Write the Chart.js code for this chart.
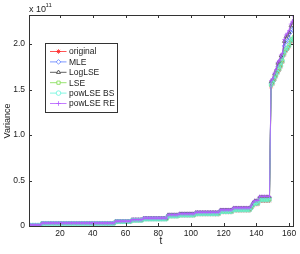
<!DOCTYPE html>
<html>
<head>
<meta charset="utf-8">
<script src="https://cdn.jsdelivr.net/npm/chart.js@4"></script>
<style>
  html, body { margin: 0; padding: 0; background: #fff; }
  #wrap { width: 300px; height: 254px; }
</style>
</head>
<body>
<div id="wrap"><canvas id="varChart"></canvas></div>
<script>
// values in units of 1e11
const seriesNames = ["original", "MLE", "LogLSE", "LSE", "powLSE BS", "powLSE RE"];
const seriesColors = ["#ff2a2a", "#5c7cff", "#3a3a3a", "#7ddc4c", "#66f5dc", "#b45cff"];
const markerStyles = ["star", "rectRot", "triangle", "rect", "circle", "cross"];

// how many consecutive t (starting at t=1) share each level
const runLengths = [8, 45, 10, 7, 15, 7, 10, 15, 8, 11, 1, 1, 3, 7,
                    1, 1, 1, 1, 1, 1, 1, 1, 1, 1, 1, 1, 1, 1, 1];

const original  = [0.009, 0.028, 0.046, 0.060, 0.074, 0.106, 0.115, 0.129, 0.152, 0.170, 0.193, 0.221, 0.239, 0.276,
                   1.53, 1.56, 1.60, 1.64, 1.68, 1.71, 1.75, 1.80, 1.88, 1.92, 1.94, 1.97, 2.02, 2.04, 2.06];
const mle       = [0.010, 0.031, 0.052, 0.067, 0.082, 0.118, 0.129, 0.144, 0.170, 0.190, 0.216, 0.247, 0.268, 0.309,
                   1.57, 1.59, 1.64, 1.68, 1.75, 1.77, 1.83, 1.86, 1.98, 2.02, 2.04, 2.07, 2.13, 2.16, 2.19];
const logLse    = [0.011, 0.032, 0.053, 0.069, 0.085, 0.122, 0.133, 0.148, 0.175, 0.196, 0.223, 0.254, 0.276, 0.318,
                   1.59, 1.61, 1.67, 1.71, 1.79, 1.81, 1.87, 1.89, 2.03, 2.08, 2.10, 2.13, 2.20, 2.23, 2.27];
const lse       = [0.010, 0.029, 0.049, 0.063, 0.078, 0.112, 0.121, 0.136, 0.160, 0.180, 0.204, 0.233, 0.252, 0.291,
                   1.55, 1.58, 1.62, 1.66, 1.70, 1.73, 1.77, 1.82, 1.90, 1.94, 1.96, 1.99, 2.04, 2.06, 2.08];
const powLseBs  = [0.009, 0.028, 0.048, 0.062, 0.076, 0.109, 0.119, 0.133, 0.157, 0.176, 0.200, 0.228, 0.247, 0.285,
                   1.55, 1.57, 1.61, 1.65, 1.69, 1.72, 1.76, 1.81, 1.89, 1.93, 1.95, 1.98, 2.03, 2.05, 2.07];
const powLseRe  = [0.011, 0.033, 0.054, 0.070, 0.087, 0.124, 0.135, 0.151, 0.178, 0.200, 0.227, 0.260, 0.280, 0.325,
                   1.60, 1.62, 1.68, 1.72, 1.80, 1.82, 1.88, 1.90, 2.05, 2.10, 2.12, 2.15, 2.22, 2.25, 2.30];
const allSeries = [original, mle, logLse, lse, powLseBs, powLseRe];

const xTicks = [20, 40, 60, 80, 100, 120, 140, 160];
const yTicks = [0, 0.5, 1, 1.5, 2];
const xMin = 1, xMax = 163, yMin = 0, yMax = 2.32;

const tickFont = { family: "'Liberation Sans', Arial, sans-serif", size: 8.5 };

function expand(levels) {
    const pts = [];
    let t = 1;
    levels.forEach((v, i) => {
        for (let k = 0; k < runLengths[i]; k++) pts.push({ x: t++, y: v });
    });
    return pts;
}

//frame, inward ticks, legend and labels like matlab
const matlabLook = {
    id: "matlabLook",
    afterDraw(chart) {
        const ctx = chart.ctx;
        const a = chart.chartArea;
        const xs = chart.scales.x, ys = chart.scales.y;
        ctx.save();
        ctx.strokeStyle = "#333";
        ctx.lineWidth = 1;
        ctx.strokeRect(a.left + 0.5, a.top + 0.5, a.right - a.left - 1, a.bottom - a.top);

        ctx.beginPath();
        xTicks.forEach(v => {
            const px = Math.round(xs.getPixelForValue(v)) + 0.5;
            ctx.moveTo(px, a.bottom); ctx.lineTo(px, a.bottom - 3);
            ctx.moveTo(px, a.top); ctx.lineTo(px, a.top + 3);
        });
        yTicks.forEach(v => {
            const py = Math.round(ys.getPixelForValue(v)) + 0.5;
            ctx.moveTo(a.left, py); ctx.lineTo(a.left + 3, py);
            ctx.moveTo(a.right, py); ctx.lineTo(a.right - 3, py);
        });
        ctx.stroke();

        //axis labels
        ctx.fillStyle = "#222";
        ctx.font = "9px 'Liberation Sans', Arial, sans-serif";
        ctx.textAlign = "left";
        ctx.textBaseline = "middle";
        ctx.fillText("x 10", 29, 10);
        ctx.font = "6px 'Liberation Sans', Arial, sans-serif";
        ctx.fillText("11", 45.5, 5.5);

        ctx.font = "10px 'Liberation Sans', Arial, sans-serif";
        ctx.textAlign = "center";
        ctx.fillText("t", 161, 241);

        ctx.save();
        ctx.translate(8, 121);
        ctx.rotate(-Math.PI / 2);
        ctx.font = "9px 'Liberation Sans', Arial, sans-serif";
        ctx.fillText("Variance", 0, 0);
        ctx.restore();

        //legend box
        const bx = 45.5, by = 43.5, bw = 72, bh = 69;
        ctx.fillStyle = "#fff";
        ctx.fillRect(bx, by, bw, bh);
        ctx.strokeStyle = "#333";
        ctx.strokeRect(bx, by, bw, bh);
        ctx.font = "8.5px 'Liberation Sans', Arial, sans-serif";
        ctx.textAlign = "left";
        seriesNames.forEach((name, i) => {
            const y = 51.5 + i * 10.4;
            ctx.strokeStyle = seriesColors[i];
            ctx.lineWidth = 0.8;
            ctx.beginPath();
            ctx.moveTo(50, y); ctx.lineTo(66.5, y);
            ctx.stroke();
            ctx.fillStyle = "#fff";
            Chart.helpers.drawPoint(ctx, {
                pointStyle: markerStyles[i], radius: 2.3, borderWidth: 0.8, rotation: 0
            }, 58.5, y);
            ctx.fillStyle = "#222";
            ctx.fillText(name, 69, y + 0.5);
        });
        ctx.restore();
    }
};

new Chart(document.getElementById("varChart"), {
    type: "line",
    data: {
        datasets: allSeries.map((vals, i) => ({
            label: seriesNames[i],
            data: expand(vals),
            borderColor: seriesColors[i],
            backgroundColor: "rgba(0,0,0,0)",
            pointBorderColor: seriesColors[i],
            pointBackgroundColor: "rgba(0,0,0,0)",
            pointStyle: markerStyles[i],
            pointRadius: 2,
            pointBorderWidth: 0.7,
            borderWidth: 0.9,
            tension: 0,
            order: allSeries.length - i
        }))
    },
    options: {
        responsive: true,
        maintainAspectRatio: false,
        animation: false,
        layout: { padding: { left: 0, right: 6, top: 15, bottom: 0 } },
        plugins: { legend: { display: false }, tooltip: { enabled: false } },
        scales: {
            x: {
                type: "linear", min: xMin, max: xMax,
                grid: { display: false, drawTicks: false },
                border: { display: false },
                ticks: { font: tickFont, color: "#222", padding: 3, maxRotation: 0 },
                afterBuildTicks: s => { s.ticks = xTicks.map(v => ({ value: v })); },
                afterFit: s => { s.height = 28; }
            },
            y: {
                min: yMin, max: yMax,
                grid: { display: false, drawTicks: false },
                border: { display: false },
                ticks: { font: tickFont, color: "#222", padding: 4 },
                afterBuildTicks: s => { s.ticks = yTicks.map(v => ({ value: v })); },
                afterFit: s => { s.width = 29; }
            }
        }
    },
    plugins: [matlabLook]
});
</script>
</body>
</html>
